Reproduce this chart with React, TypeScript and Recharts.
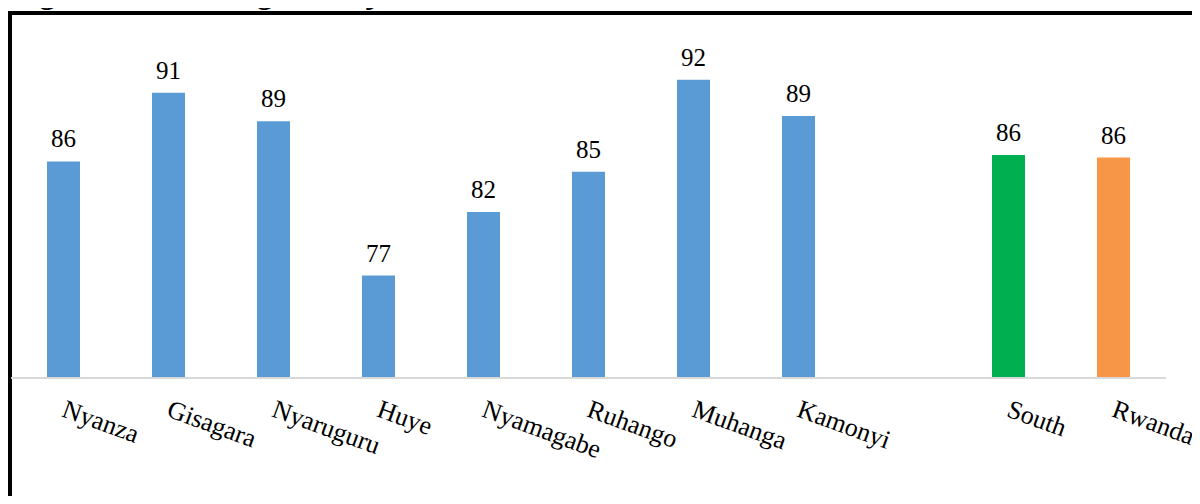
import React from "react";
import { BarChart, Bar, XAxis, YAxis, Cell, LabelList } from "recharts";

const categories = ["Nyanza", "Gisagara", "Nyaruguru", "Huye", "Nyamagabe", "Ruhango", "Muhanga", "Kamonyi", "", "South", "Rwanda"];
const values: (number | null)[] = [85.7, 91.0, 88.8, 76.9, 81.8, 84.9, 92.0, 89.2, null, 86.2, 86.0];
const barColors = ["#5B9BD5", "#5B9BD5", "#5B9BD5", "#5B9BD5", "#5B9BD5", "#5B9BD5", "#5B9BD5", "#5B9BD5", "#5B9BD5", "#00B050", "#F79646"];
const titleText = "Figure 3: Percentage of de jure household members with health insurance";

const data = categories.map((name, i) => ({ name, value: values[i] }));

const SERIF = "'Liberation Serif', 'Times New Roman', serif";

const Tick = (props: any) => {
  const { x, y, payload } = props;
  if (!payload || !payload.value) return null;
  return (
    <text
      x={x - 3}
      y={y + 30}
      transform={`rotate(20, ${x - 3}, ${y + 30})`}
      textAnchor="start"
      fontFamily={SERIF}
      fontSize={26}
      fill="#000"
    >
      {payload.value}
    </text>
  );
};

export default function App() {
  return (
    <div style={{ position: "relative", margin: -8, width: 1200, height: 504, overflow: "hidden", background: "#fff" }}>
      <div
        style={{
          position: "absolute",
          left: 12,
          top: -24,
          fontFamily: SERIF,
          fontWeight: "bold",
          fontSize: 31,
          lineHeight: "34px",
          whiteSpace: "nowrap",
          color: "#000",
        }}
      >
        {titleText}
      </div>
      <div
        style={{
          position: "absolute",
          left: 8,
          top: 11,
          width: 1300,
          height: 600,
          borderLeft: "4px solid #000",
          borderTop: "4px solid #000",
          background: "transparent",
        }}
      />
      <div style={{ position: "absolute", left: 0, top: 0 }}>
        <BarChart
          width={1200}
          height={504}
          data={data}
          margin={{ top: 15, right: 34, bottom: 26, left: 11 }}
          barSize={33}
        >
          <XAxis
            dataKey="name"
            height={100}
            axisLine={{ stroke: "#D9D9D9", strokeWidth: 2 }}
            tickLine={false}
            tick={<Tick />}
            interval={0}
          />
          <YAxis hide domain={[69, 97]} />
          <Bar dataKey="value" isAnimationActive={false}>
            {data.map((d, i) => (
              <Cell key={i} fill={barColors[i]} />
            ))}
            <LabelList
              dataKey="value"
              position="top"
              offset={14}
              formatter={(v: any) => (v == null ? "" : Math.round(v))}
              style={{ fontFamily: SERIF, fontSize: 25, fill: "#000" }}
            />
          </Bar>
        </BarChart>
      </div>
    </div>
  );
}
